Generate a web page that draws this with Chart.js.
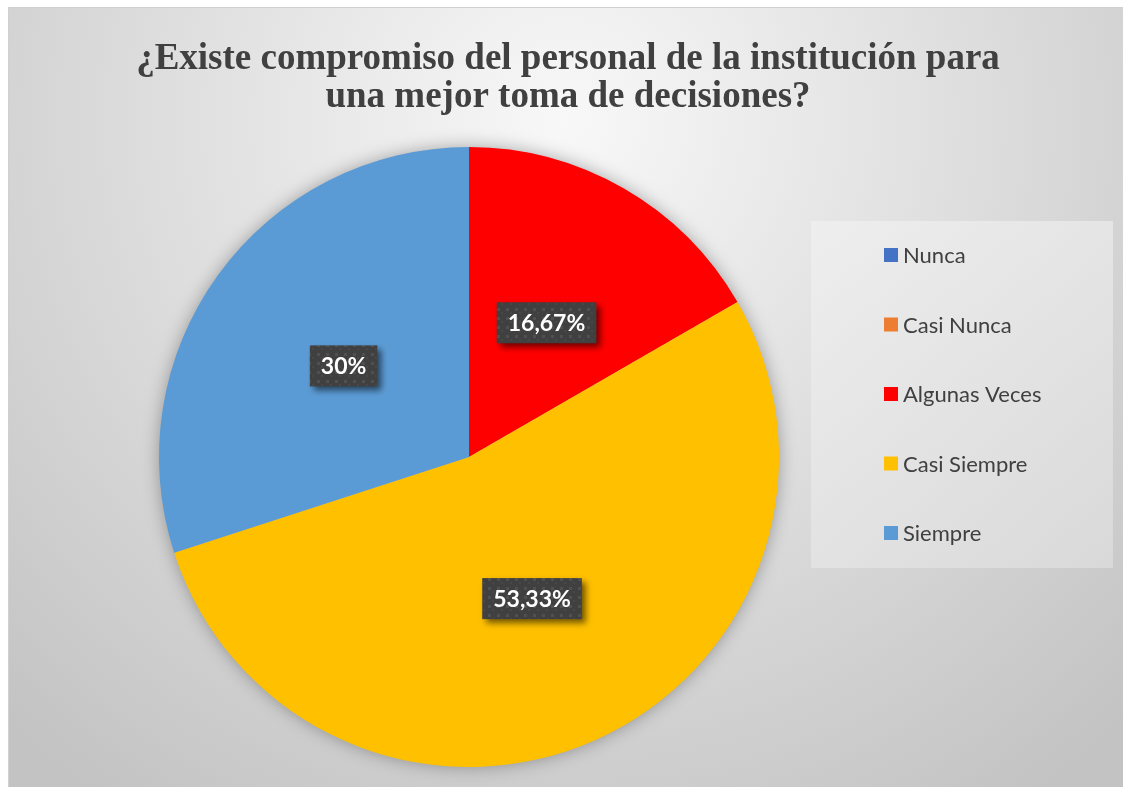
<!DOCTYPE html>
<html lang="es">
<head>
<meta charset="utf-8">
<title>Compromiso del personal</title>
<script src="https://cdn.jsdelivr.net/npm/chart.js@4.4.0/dist/chart.umd.min.js"></script>
<style>
  html, body { margin: 0; padding: 0; background: #fff; }
  #wrap { position: relative; width: 1123px; height: 787px; overflow: hidden; }
  canvas { display: block; }
</style>
</head>
<body>
<div id="wrap"><canvas id="pieChart" width="1123" height="787"></canvas></div>
<script>
// --- Datos ---
const categorias = ['Nunca', 'Casi Nunca', 'Algunas Veces', 'Casi Siempre', 'Siempre'];
const porcentajes = [0, 0, 16.67, 53.33, 30];
const colores = ['#4472C4', '#ED7D31', '#FF0000', '#FFC000', '#5B9BD5'];
const titulo = ['¿Existe compromiso del personal de la institución para', 'una mejor toma de decisiones?'];

const TEXT_COLOR = '#404040';
const SANS = 'Lato, "Open Sans", sans-serif';

// patrón punteado para las etiquetas de datos
function makeDotPattern(ctx) {
    const p = document.createElement('canvas');
    p.width = 9; p.height = 9;
    const c = p.getContext('2d');
    c.fillStyle = '#404040';
    c.fillRect(0, 0, 9, 9);
    c.fillStyle = '#505050';
    c.fillRect(2, 2, 3, 3);
    c.fillStyle = '#484848';
    c.fillRect(6, 6, 2, 2);
    return ctx.createPattern(p, 'repeat');
}

// fondo del gráfico, caja de leyenda y título
const backdrop = {
    id: 'backdrop',
    beforeDraw(chart) {
        const ctx = chart.ctx;
        ctx.save();
        ctx.fillStyle = '#fff';
        ctx.fillRect(0, 0, chart.width, chart.height);

        const g = ctx.createRadialGradient(565, 120, 0, 565, 120, 820);
        g.addColorStop(0, '#f8f8f8');
        g.addColorStop(1, '#c3c3c3');
        ctx.fillStyle = g;
        ctx.fillRect(8, 7, chart.width - 8, chart.height - 7);
        ctx.strokeStyle = '#d0d0d0';
        ctx.lineWidth = 1;
        ctx.strokeRect(8.5, 7.5, chart.width, chart.height);

        // caja de la leyenda
        const lg = ctx.createLinearGradient(811, 221, 1113, 568);
        lg.addColorStop(0, '#eeeeee');
        lg.addColorStop(1, '#d9d9d9');
        ctx.fillStyle = lg;
        ctx.fillRect(811, 221, 302, 347);

        // título
        ctx.fillStyle = TEXT_COLOR;
        ctx.font = 'bold 37px "Liberation Serif", "Times New Roman", serif';
        ctx.textAlign = 'center';
        ctx.textBaseline = 'alphabetic';
        ctx.fillText(titulo[0], 568, 69);
        ctx.fillText(titulo[1], 568, 107);
        ctx.restore();
    },
    beforeDatasetsDraw(chart) {
        // sombra suave alrededor del pastel
        const arc = chart.getDatasetMeta(0).data[0];
        const { x, y, outerRadius } = arc.getProps(['x', 'y', 'outerRadius'], true);
        const ctx = chart.ctx;
        ctx.save();
        ctx.shadowColor = 'rgba(0,0,0,0.35)';
        ctx.shadowBlur = 18;
        ctx.fillStyle = '#aaaaaa';
        ctx.beginPath();
        ctx.arc(x, y, outerRadius - 1, 0, Math.PI * 2);
        ctx.fill();
        ctx.restore();
    },
    afterDatasetsDraw(chart) {
        const ctx = chart.ctx;
        const meta = chart.getDatasetMeta(0);
        const pattern = makeDotPattern(ctx);
        ctx.save();
        ctx.font = 'bold 23px ' + SANS;
        ctx.textAlign = 'center';
        ctx.textBaseline = 'middle';
        meta.data.forEach((arc, i) => {
            const v = porcentajes[i];
            if (!v) return;
            const { x, y, startAngle, endAngle, outerRadius } =
                arc.getProps(['x', 'y', 'startAngle', 'endAngle', 'outerRadius'], true);
            const mid = (startAngle + endAngle) / 2;
            const cx = x + Math.cos(mid) * outerRadius * 0.5;
            const cy = y + Math.sin(mid) * outerRadius * 0.5;
            const txt = String(v).replace('.', ',') + '%';
            const w = ctx.measureText(txt).width + 22;
            const h = 41;
            ctx.save();
            ctx.shadowColor = 'rgba(0,0,0,0.55)';
            ctx.shadowBlur = 6;
            ctx.shadowOffsetX = 4;
            ctx.shadowOffsetY = 4;
            ctx.fillStyle = pattern;
            ctx.fillRect(cx - w / 2, cy - h / 2, w, h);
            ctx.restore();
            ctx.fillStyle = '#fff';
            ctx.fillText(txt, cx, cy + 1);
        });

        // leyenda
        ctx.font = '22px ' + SANS;
        ctx.textAlign = 'left';
        categorias.forEach((c, i) => {
            const yy = 255 + i * 69.5;
            ctx.fillStyle = colores[i];
            ctx.fillRect(884, yy - 7, 14, 14);
            ctx.fillStyle = TEXT_COLOR;
            ctx.fillText(c, 903, yy + 1);
        });
        ctx.restore();
    }
};

new Chart(document.getElementById('pieChart'), {
    type: 'pie',
    data: {
        labels: categorias,
        datasets: [{
            data: porcentajes,
            backgroundColor: colores,
            borderWidth: 0,
            hoverOffset: 0
        }]
    },
    options: {
        responsive: false,
        animation: false,
        events: [],
        layout: { padding: { left: 159, right: 344, top: 147, bottom: 20 } },
        plugins: {
            legend: { display: false },
            tooltip: { enabled: false },
            title: { display: false }
        }
    },
    plugins: [backdrop]
});
</script>
</body>
</html>
